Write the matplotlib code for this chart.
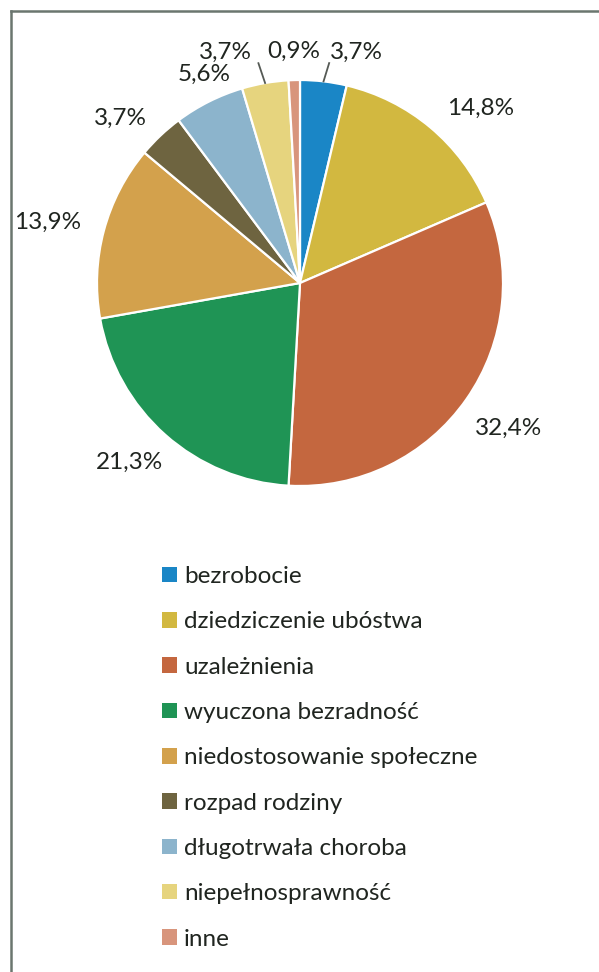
import numpy as np
import matplotlib
matplotlib.use("Agg")
import matplotlib.pyplot as plt
from matplotlib.patches import Patch
from matplotlib.lines import Line2D

plt.rcParams['font.family'] = ['Lato', 'DejaVu Sans']

categories = ["bezrobocie", "dziedziczenie ubóstwa", "uzależnienia",
              "wyuczona bezradność", "niedostosowanie społeczne",
              "rozpad rodziny", "długotrwała choroba",
              "niepełnosprawność", "inne"]
values = [3.7, 14.8, 32.4, 21.3, 13.9, 3.7, 5.6, 3.7, 0.9]
labels = ["3,7%", "14,8%", "32,4%", "21,3%", "13,9%", "3,7%", "5,6%", "3,7%", "0,9%"]
colors = ["#1a86c6", "#d2b840", "#c4673f", "#1f9455", "#d3a14c",
          "#6e6440", "#8cb4cc", "#e6d47e", "#d8957c"]

# label placement tweaks (radial distance, angular shift in degrees)
label_r = [1.172, 1.24, 1.25, 1.22, 1.28, 1.20, 1.13, 1.195, 1.14]
label_da = [-7.1, -6, 0, -2, 1.5, 4, -2, 7.9, -0.1]
leader = [True, False, False, False, False, False, False, True, False]

W, H = 599, 972
fig = plt.figure(figsize=(W/100, H/100), dpi=100)
fig.patch.set_facecolor("white")

R = 203.0
cx, cy = 300.0, 283.0
lim = 1.45
ax = fig.add_axes([(cx - lim*R)/W, (H - cy - lim*R)/H, 2*lim*R/W, 2*lim*R/H])

wedges, _ = ax.pie(values, colors=colors, startangle=90, counterclock=False,
                   radius=1.0, wedgeprops=dict(edgecolor="white", linewidth=1.6))
ax.set_xlim(-lim, lim)
ax.set_ylim(-lim, lim)
ax.set_aspect('equal')
ax.axis('off')

txtcol = "#202520"
fs = 17.5
for w, lab, r, da, ld in zip(wedges, labels, label_r, label_da, leader):
    mid = np.deg2rad((w.theta1 + w.theta2) / 2 + da)
    tx, ty = r*np.cos(mid), r*np.sin(mid)
    ax.text(tx, ty, lab, ha='center', va='center', fontsize=fs, color=txtcol)
    if ld:
        m0 = np.deg2rad((w.theta1 + w.theta2) / 2)
        x0, y0 = np.cos(m0), np.sin(m0)
        ax.plot([x0, x0 + (tx - x0)*0.17], [y0, ty - 0.055], color="#555a55", lw=1.3)

handles = [Patch(facecolor=c, edgecolor='none') for c in colors]
fig.legend(handles, categories, loc='upper left',
           bbox_to_anchor=(150/W, 1 - 554/H), frameon=False, fontsize=fs,
           handlelength=0.6, handleheight=0.6, handletextpad=0.3,
           labelspacing=1.0, borderpad=0, labelcolor=txtcol)

# frame lines
fig.add_artist(Line2D([11/W, 11/W], [0, 1 - 11/H], transform=fig.transFigure,
                      color="#6b766f", lw=1.8))
fig.add_artist(Line2D([11/W, 1], [1 - 11/H, 1 - 11/H], transform=fig.transFigure,
                      color="#6b766f", lw=1.8))

fig.savefig("out.png", dpi=100, facecolor="white")
